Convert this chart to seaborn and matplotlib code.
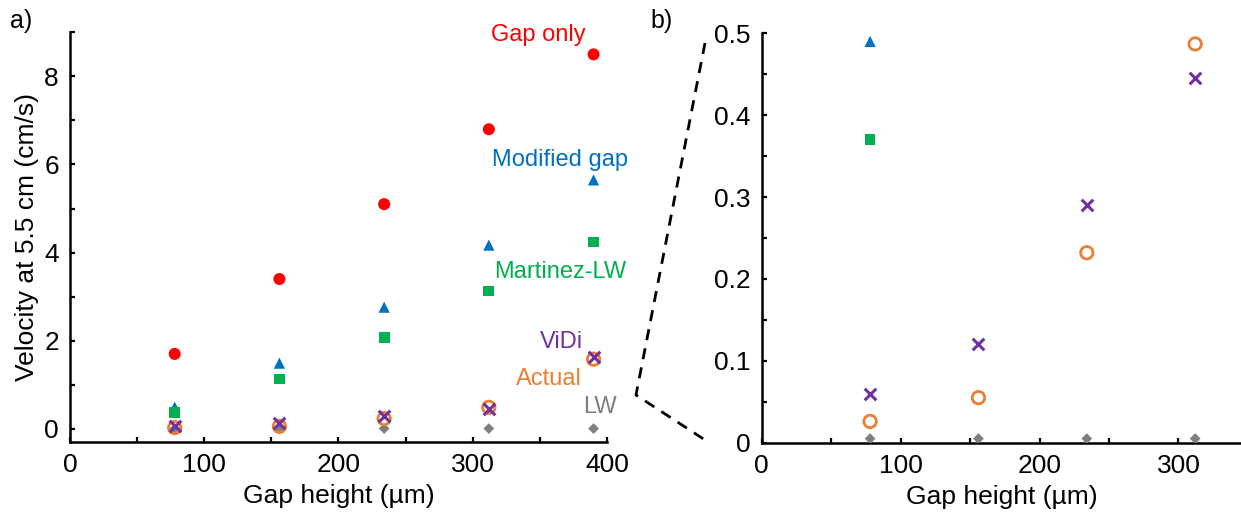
import numpy as np
import pandas as pd
import seaborn as sns
import matplotlib.pyplot as plt
from matplotlib.lines import Line2D
from matplotlib.ticker import MultipleLocator

# Data
gap_height = [78, 156, 234, 312, 390]
gap_only = [1.70, 3.40, 5.10, 6.80, 8.50]
modified_gap = [0.49, 1.49, 2.76, 4.17, 5.65]
martinez_lw = [0.37, 1.13, 2.08, 3.13, 4.24]
vidi = [0.06, 0.12, 0.29, 0.445, 1.63]
actual = [0.026, 0.055, 0.232, 0.487, 1.58]
lw = [0.005, 0.005, 0.005, 0.005, 0.005]

labels = ["Gap only", "Modified gap", "Martinez-LW", "ViDi", "Actual", "LW"]
label_x = [349, 365, 365, 366, 357, 395]
label_y = [8.95, 6.1, 3.57, 1.98, 1.14, 0.49]

colors = {"Gap only": "#FF0000", "Modified gap": "#0070C0", "Martinez-LW": "#00B050",
          "ViDi": "#7030A0", "Actual": "#ED7D31", "LW": "#7F7F7F"}

sns.set_style("ticks")
plt.rcParams['font.family'] = ['Liberation Sans', 'DejaVu Sans']
plt.rcParams['font.size'] = 19
plt.rcParams['xtick.direction'] = 'in'
plt.rcParams['ytick.direction'] = 'in'
plt.rcParams['text.color'] = 'black'
plt.rcParams['axes.labelcolor'] = 'black'
plt.rcParams['xtick.labelcolor'] = 'black'
plt.rcParams['ytick.labelcolor'] = 'black'

fig = plt.figure(figsize=(12.41, 5.14), dpi=100)
ax1 = fig.add_axes([0.0564, 0.1401, 0.4327, 0.797])
ax2 = fig.add_axes([0.6138, 0.1387, 0.3862, 0.7965])


def draw(ax, clip):
    kw = dict(ax=ax, legend=False, clip_on=clip, zorder=3)
    sns.scatterplot(x=gap_height, y=gap_only, marker='o', s=75, color=colors["Gap only"],
                    edgecolor='none', **kw)
    sns.scatterplot(x=gap_height, y=modified_gap, marker='^', s=65, color=colors["Modified gap"],
                    edgecolor='none', **kw)
    sns.scatterplot(x=gap_height, y=martinez_lw, marker='s', s=60, color=colors["Martinez-LW"],
                    edgecolor='none', **kw)
    sns.scatterplot(x=gap_height, y=lw, marker='D', s=30, color=colors["LW"],
                    edgecolor='none', **kw)
    sns.scatterplot(x=gap_height, y=actual, marker='o', s=80, facecolor='none',
                    edgecolor=colors["Actual"], linewidth=2, **kw)
    sns.scatterplot(x=gap_height, y=vidi, marker='x', s=70, color=colors["ViDi"],
                    linewidth=2.2, **kw)


draw(ax1, False)
draw(ax2, True)

for ax in (ax1, ax2):
    sns.despine(ax=ax)
    for sp in ('left', 'bottom'):
        ax.spines[sp].set_linewidth(1.8)
        ax.spines[sp].set_color('black')
    ax.tick_params(which='both', width=1.6, length=3.5, color='black', labelsize=19, pad=8)
    ax.xaxis.set_minor_locator(MultipleLocator(50))
    ax.set_xlabel("Gap height (µm)", fontsize=19, labelpad=5)

ax1.set_xlim(0, 400)
ax1.set_ylim(-0.3, 9)
ax1.set_xticks([0, 100, 200, 300, 400])
ax1.set_yticks([0, 2, 4, 6, 8])
ax1.yaxis.set_minor_locator(MultipleLocator(1))
ax1.set_ylabel("Velocity at 5.5 cm (cm/s)", fontsize=19, labelpad=4)

ax2.set_xlim(0, 345)
ax2.set_ylim(0, 0.5)
ax2.set_xticks([0, 100, 200, 300])
ax2.set_yticks([0, 0.1, 0.2, 0.3, 0.4, 0.5])
ax2.set_yticklabels(["0", "0.1", "0.2", "0.3", "0.4", "0.5"])
ax2.yaxis.set_minor_locator(MultipleLocator(0.05))

for name, lx, ly in zip(labels, label_x, label_y):
    ax1.text(lx, ly, name, color=colors[name], fontsize=17, ha='center', va='center')

fig.text(0.008, 0.96, "a)", fontsize=18, ha='left', va='center')
fig.text(0.524, 0.96, "b)", fontsize=18, ha='left', va='center')

# dashed zoom connector
fig.add_artist(Line2D([705 / 1241, 636 / 1241, 705 / 1241],
                      [1 - 43 / 514, 1 - 395 / 514, 1 - 440 / 514],
                      transform=fig.transFigure, color='black', lw=2, ls=(0, (4, 3))))

fig.savefig("out.png", dpi=100)
